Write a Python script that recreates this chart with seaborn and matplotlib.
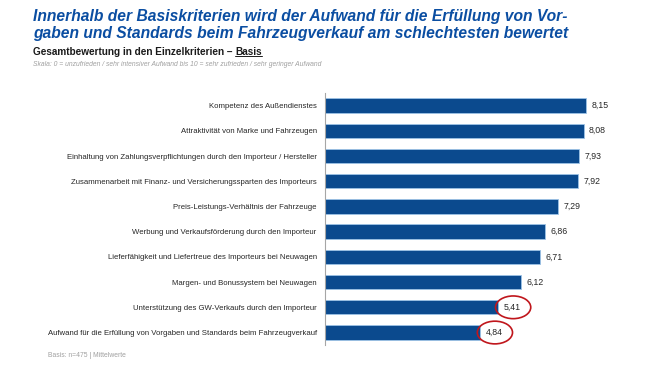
import matplotlib
matplotlib.use("Agg")
import matplotlib.pyplot as plt
from matplotlib.patches import Ellipse
import seaborn as sns
import pandas as pd

# data
criteria = [
    "Kompetenz des Außendienstes",
    "Attraktivität von Marke und Fahrzeugen",
    "Einhaltung von Zahlungsverpflichtungen durch den Importeur / Hersteller",
    "Zusammenarbeit mit Finanz- und Versicherungssparten des Importeurs",
    "Preis-Leistungs-Verhältnis der Fahrzeuge",
    "Werbung und Verkaufsförderung durch den Importeur",
    "Lieferfähigkeit und Liefertreue des Importeurs bei Neuwagen",
    "Margen- und Bonussystem bei Neuwagen",
    "Unterstützung des GW-Verkaufs durch den Importeur",
    "Aufwand für die Erfüllung von Vorgaben und Standards beim Fahrzeugverkauf",
]
scores = [8.15, 8.08, 7.93, 7.92, 7.29, 6.86, 6.71, 6.12, 5.41, 4.84]
highlighted = [8, 9]

df = pd.DataFrame({"Kriterium": criteria, "Wert": scores})

sns.set_style("white")
plt.rcParams["font.family"] = ["Liberation Sans", "DejaVu Sans"]

fig = plt.figure(figsize=(6.5, 3.66), dpi=100)
ax = fig.add_axes([0.5, 0.057, 0.4923, 0.689])

sns.barplot(data=df, x="Wert", y="Kriterium", orient="h", color="#0B4A8E",
            width=0.57, edgecolor="#9DC3E6", linewidth=0.6, saturation=1, ax=ax)

ax.set_xlim(0, 10)
ax.set_ylim(len(criteria) - 0.5, -0.5)
ax.set_xlabel("")
ax.set_ylabel("")
ax.set_xticks([])
for s in ["top", "right", "bottom"]:
    ax.spines[s].set_visible(False)
ax.spines["left"].set_color("#A6A6A6")
ax.spines["left"].set_linewidth(0.8)
ax.tick_params(axis="y", which="major", length=0, pad=6, labelsize=5.6,
               labelcolor="#262626")
ax.set_yticks([i - 0.5 for i in range(len(criteria) + 1)], minor=True)
ax.tick_params(axis="y", which="minor", length=4, color="#A6A6A6", width=0.8)

labels = [f"{v:.2f}".replace(".", ",") for v in scores]
ax.bar_label(ax.containers[0], labels=labels, padding=4, fontsize=6.3,
             color="#262626")

for i in highlighted:
    ax.add_patch(Ellipse((scores[i] + 0.47, i), 1.1, 0.9, fill=False,
                         edgecolor="#C0161C", linewidth=1.2, clip_on=False))

fig.text(0.051, 0.975, "Innerhalb der Basiskriterien wird der Aufwand für die Erfüllung von Vor-\n"
         "gaben und Standards beim Fahrzeugverkauf am schlechtesten bewertet",
         ha="left", va="top", fontsize=11.25, fontweight="bold", fontstyle="italic",
         color="#0B4EA2", linespacing=1.15)

# subtitle with underlined "Basis"
sub = fig.text(0.051, 0.858, "Gesamtbewertung in den Einzelkriterien – ", ha="left",
               va="center", fontsize=7.2, fontweight="bold", color="#1a1a1a")
fig.canvas.draw()
bb = sub.get_window_extent().transformed(fig.transFigure.inverted())
basis = fig.text(bb.x1, 0.858, "Basis", ha="left", va="center", fontsize=7.2,
                 fontweight="bold", color="#1a1a1a")
fig.canvas.draw()
bb2 = basis.get_window_extent().transformed(fig.transFigure.inverted())
fig.add_artist(plt.Line2D([bb2.x0, bb2.x1], [bb2.y0 + 0.004, bb2.y0 + 0.004],
                          color="#1a1a1a", linewidth=0.7))

fig.text(0.051, 0.823, "Skala: 0 = unzufrieden / sehr intensiver Aufwand bis 10 = "
         "sehr zufrieden / sehr geringer Aufwand", ha="left", va="center",
         fontsize=4.9, fontstyle="italic", color="#A0A0A0")
fig.text(0.074, 0.028, "Basis: n=475 | Mittelwerte", ha="left", va="center",
         fontsize=4.9, color="#A0A0A0")

plt.savefig("out.png", dpi=100)
plt.close()
